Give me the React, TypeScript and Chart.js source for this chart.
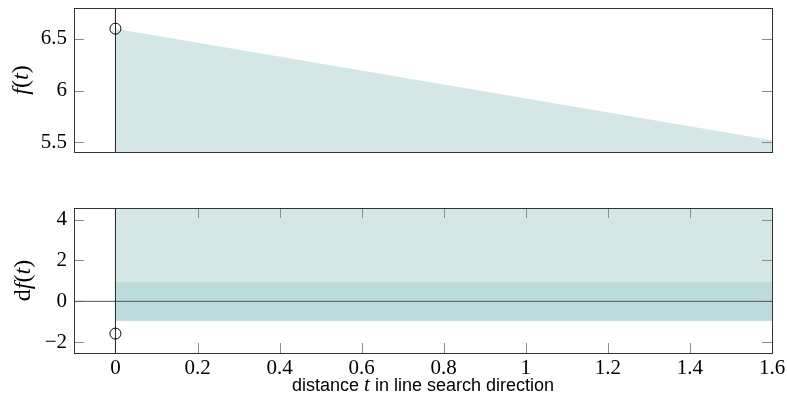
import React, { useEffect, useRef } from 'react';
import { Chart, registerables } from 'chart.js';

Chart.register(...registerables);

// ---- data ----
const tValues = [0, 1.6];
const fBoundary = [6.6, 5.52];
const fStart = 6.6;
const dfStart = -1.58;
const dfBandLow = -0.95;
const dfBandHigh = 0.95;
const zeroLineX = [-0.2, 1.7];
const xLimits = [-0.101, 1.6];
const fLimits = [5.405, 6.8];
const dfLimits = [-2.53, 4.57];
const xTicks = [0, 0.2, 0.4, 0.6, 0.8, 1, 1.2, 1.4, 1.6];
const fTicks = [5.5, 6, 6.5];
const dfTicks = [-2, 0, 2, 4];

// ---- styles ----
const LIGHT = 'rgb(212,231,230)';
const DARK = 'rgb(188,219,219)';
const SERIF = "'Liberation Serif', serif";
const SANS = "'Liberation Sans', sans-serif";
const TICK_FONT = { family: SERIF, size: 21 };
const T_IT = `italic 24px ${SERIF}`;
const T_RM = `24px ${SERIF}`;
const X_IT = `italic 21px ${SERIF}`;
const F_SANS = `18px ${SANS}`;

const fmt = (v: number) => String(Math.round(v * 10) / 10).replace('-', '\u2212');

type Piece = [string, string];

function drawPieces(ctx: CanvasRenderingContext2D, pieces: Piece[], cx: number, cy: number, rotate: boolean, baseline: CanvasTextBaseline) {
  ctx.save();
  let total = 0;
  for (const [txt, font] of pieces) {
    ctx.font = font;
    total += ctx.measureText(txt).width;
  }
  ctx.translate(cx, cy);
  if (rotate) ctx.rotate(-Math.PI / 2);
  ctx.textBaseline = baseline;
  ctx.textAlign = 'left';
  ctx.fillStyle = '#000';
  let x = -total / 2;
  for (const [txt, font] of pieces) {
    ctx.font = font;
    ctx.fillText(txt, x, 0);
    x += ctx.measureText(txt).width;
  }
  ctx.restore();
}

function framePlugin(id: string, xInside: boolean, lastFillIndex: number, yTitle: Piece[], yTitleX: number, xTitle: Piece[] | null) {
  return {
    id,
    afterDatasetDraw(chart: any, args: any) {
      if (args.index !== lastFillIndex) return;
      const { ctx, chartArea: a, scales } = chart;
      ctx.save();
      ctx.lineWidth = 1;
      ctx.strokeStyle = '#8c8c8c';
      const L = 10;
      const ys = scales.y;
      for (const t of ys.ticks) {
        const p = Math.round(ys.getPixelForValue(t.value)) + 0.5;
        ctx.beginPath();
        ctx.moveTo(a.left, p);
        ctx.lineTo(a.left + L, p);
        ctx.moveTo(a.right - L, p);
        ctx.lineTo(a.right, p);
        ctx.stroke();
      }
      if (xInside) {
        const xs = scales.x;
        for (const t of xs.ticks) {
          const p = Math.round(xs.getPixelForValue(t.value)) + 0.5;
          ctx.beginPath();
          ctx.moveTo(p, a.bottom);
          ctx.lineTo(p, a.bottom - L);
          ctx.moveTo(p, a.top);
          ctx.lineTo(p, a.top + L);
          ctx.stroke();
        }
      }
      ctx.restore();
    },
    afterDatasetsDraw(chart: any) {
      const { ctx, chartArea: a } = chart;
      ctx.save();
      ctx.lineWidth = 1;
      ctx.strokeStyle = '#333';
      ctx.strokeRect(Math.round(a.left) + 0.5, Math.round(a.top) + 0.5, Math.round(a.right - a.left), Math.round(a.bottom - a.top));
      ctx.restore();
    },
    afterDraw(chart: any) {
      const { ctx, chartArea: a } = chart;
      drawPieces(ctx, yTitle, yTitleX, (a.top + a.bottom) / 2, true, 'middle');
      if (xTitle) {
        drawPieces(ctx, xTitle, (a.left + a.right) / 2, 201, false, 'alphabetic');
      }
    },
  };
}

function makeOptions(yLim: number[], yTickVals: number[], showX: boolean, padding: any) {
  return {
    responsive: false,
    animation: false,
    layout: { padding },
    plugins: { legend: { display: false }, tooltip: { enabled: false } },
    elements: { line: { tension: 0 } },
    scales: {
      x: {
        type: 'linear',
        min: xLimits[0],
        max: xLimits[1],
        display: showX,
        grid: { display: false, drawTicks: false },
        border: { display: false },
        afterBuildTicks: (s: any) => {
          s.ticks = xTicks.map((v) => ({ value: v }));
        },
        afterFit: (s: any) => {
          if (showX) s.height = 44;
          s.paddingLeft = 0;
          s.paddingRight = 0;
        },
        ticks: {
          font: TICK_FONT,
          color: '#000',
          padding: 3,
          autoSkip: false,
          maxRotation: 0,
          callback: (v: any) => fmt(Number(v)),
        },
      },
      y: {
        type: 'linear',
        min: yLim[0],
        max: yLim[1],
        grid: { display: false, drawTicks: false },
        border: { display: false },
        afterBuildTicks: (s: any) => {
          s.ticks = yTickVals.map((v) => ({ value: v }));
        },
        afterFit: (s: any) => {
          s.width = 74;
          s.paddingTop = 0;
          s.paddingBottom = 0;
        },
        ticks: {
          font: TICK_FONT,
          color: '#000',
          padding: 7,
          autoSkip: false,
          callback: (v: any) => fmt(Number(v)),
        },
      },
    },
  };
}

const circle = (y: number) => ({
  data: [{ x: tValues[0], y }],
  showLine: false,
  pointRadius: 5.5,
  pointBorderColor: '#000',
  pointBackgroundColor: 'rgba(0,0,0,0)',
  pointBorderWidth: 1,
  order: 0,
});

const vline = (lim: number[]) => ({
  data: [
    { x: tValues[0], y: lim[0] },
    { x: tValues[0], y: lim[1] },
  ],
  borderColor: '#222',
  borderWidth: 1,
  pointRadius: 0,
  fill: false,
  order: 1,
});

export default function App() {
  const topRef = useRef<HTMLCanvasElement>(null);
  const botRef = useRef<HTMLCanvasElement>(null);

  useEffect(() => {
    const top = new Chart(topRef.current as HTMLCanvasElement, {
      type: 'line',
      data: {
        datasets: [
          circle(fStart),
          vline(fLimits),
          {
            data: tValues.map((t, i) => ({ x: t, y: fBoundary[i] })),
            borderColor: 'rgba(0,0,0,0)',
            borderWidth: 0,
            pointRadius: 0,
            backgroundColor: LIGHT,
            fill: 'start',
            order: 2,
          },
        ] as any,
      },
      options: makeOptions(fLimits, fTicks, false, { top: 8, bottom: 38, left: 0, right: 15 }) as any,
      plugins: [framePlugin('frameTop', false, 2, [['f', T_IT], ['(', T_RM], ['t', T_IT], [')', T_RM]], 22, null)],
    });

    const bot = new Chart(botRef.current as HTMLCanvasElement, {
      type: 'line',
      data: {
        datasets: [
          circle(dfStart),
          vline(dfLimits),
          {
            data: zeroLineX.map((x) => ({ x, y: 0 })),
            borderColor: '#555',
            borderWidth: 1,
            pointRadius: 0,
            fill: false,
            order: 2,
          },
          {
            data: tValues.map((t) => ({ x: t, y: dfBandHigh })),
            borderColor: 'rgba(0,0,0,0)',
            borderWidth: 0,
            pointRadius: 0,
            backgroundColor: DARK,
            fill: { value: dfBandLow },
            order: 3,
          },
          {
            data: tValues.map((t) => ({ x: t, y: dfBandLow })),
            borderColor: 'rgba(0,0,0,0)',
            borderWidth: 0,
            pointRadius: 0,
            backgroundColor: LIGHT,
            fill: 'end',
            order: 4,
          },
        ] as any,
      },
      options: makeOptions(dfLimits, dfTicks, true, { top: 18, bottom: 0, left: 0, right: 15 }) as any,
      plugins: [
        framePlugin(
          'frameBot',
          true,
          3,
          [['d', T_RM], ['f', T_IT], ['(', T_RM], ['t', T_IT], [')', T_RM]],
          24,
          [['distance ', F_SANS], ['t', X_IT], [' in line search direction', F_SANS]]
        ),
      ],
    });

    return () => {
      top.destroy();
      bot.destroy();
    };
  }, []);

  return (
    <div style={{ position: 'absolute', left: 0, top: 0, width: 787, height: 397, background: '#fff' }}>
      <canvas ref={topRef} width={787} height={190} style={{ position: 'absolute', left: 0, top: 0, width: 787, height: 190 }} />
      <canvas ref={botRef} width={787} height={207} style={{ position: 'absolute', left: 0, top: 190, width: 787, height: 207 }} />
    </div>
  );
}
